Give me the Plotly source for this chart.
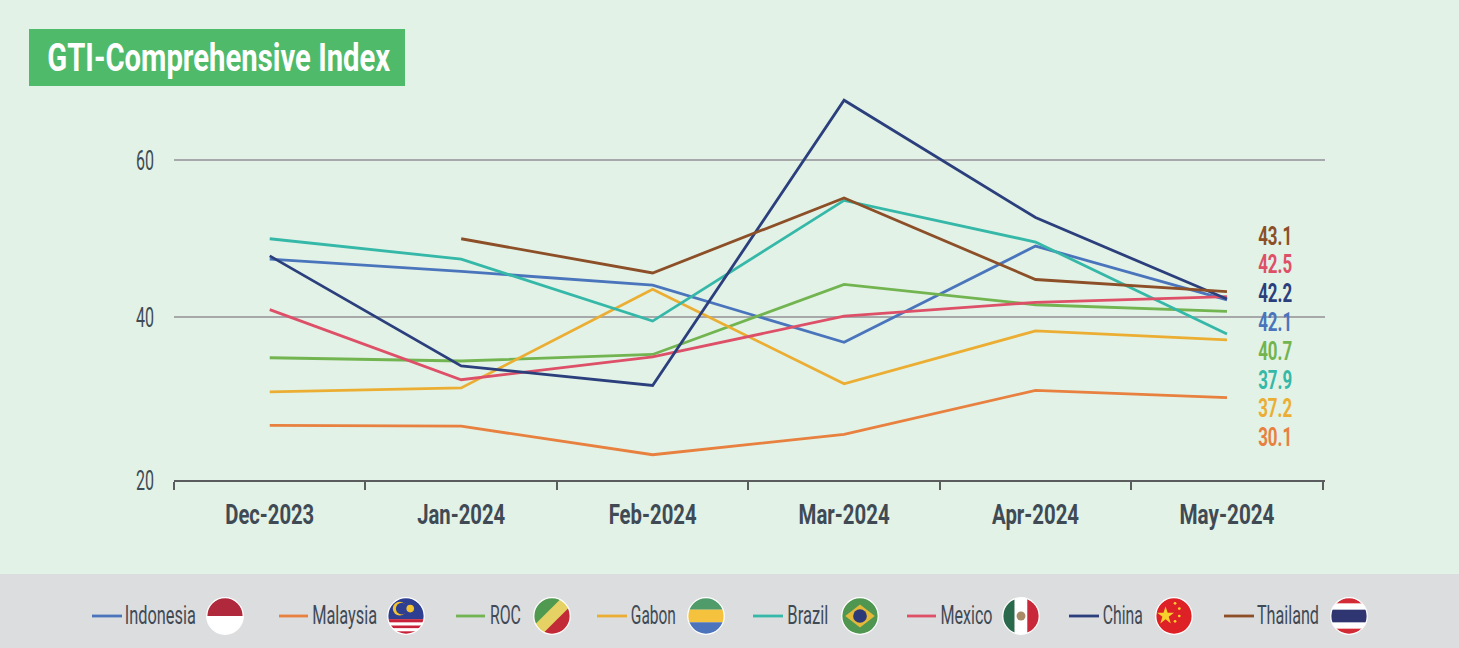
import base64
import json
import plotly.graph_objects as go

months = ["Dec-2023", "Jan-2024", "Feb-2024", "Mar-2024", "Apr-2024", "May-2024"]
indonesia = [47.1, 45.6, 43.9, 36.9, 48.7, 42.1]
malaysia = [26.7, 26.6, 23.1, 25.6, 31.0, 30.1]
roc = [35.0, 34.6, 35.4, 44.0, 41.5, 40.7]
gabon = [30.8, 31.3, 43.4, 31.8, 38.3, 37.2]
brazil = [49.6, 47.1, 39.5, 54.3, 49.2, 37.9]
mexico = [40.9, 32.3, 35.1, 40.1, 41.8, 42.5]
china = [47.5, 34.0, 31.6, 66.6, 52.2, 42.2]
thailand = [None, 49.6, 45.4, 54.6, 44.6, 43.1]

names = ["Indonesia", "Malaysia", "ROC", "Gabon", "Brazil", "Mexico", "China", "Thailand"]
colors = ["#4A75BC", "#E8803F", "#72B450", "#EBAE32", "#35B8A8", "#DD5068", "#2B3F7C", "#8C4F28"]
series = [indonesia, malaysia, roc, gabon, brazil, mexico, china, thailand]

label_order = ["Thailand", "Mexico", "China", "Indonesia", "ROC", "Brazil", "Gabon", "Malaysia"]
label_text = ["43.1", "42.5", "42.2", "42.1", "40.7", "37.9", "37.2", "30.1"]
label_py = [236, 264, 293, 322, 351, 380, 408, 437]

tick_vals = [20, 40, 59.26]
tick_text = ["20", "40", "60"]
title_text = "GTI-Comprehensive Index"

W, H = 1459, 648
L, R, T, B = 174, 1325, 90, 480
FONT = "Roboto"
BG, FOOT, INK, GRID = "#E2F2E6", "#DCDDDF", "#404A55", "#A6A8AA"


def px(x):
    return (x - L) / (R - L)


def py(y):
    return (B - y) / (B - T)


def svg_uri(body):
    s = ('<svg xmlns="http://www.w3.org/2000/svg" viewBox="0 0 36 36"><defs><clipPath id="c">'
         '<circle cx="18" cy="18" r="17.3"/></clipPath></defs><g clip-path="url(#c)">' + body +
         '</g><circle cx="18" cy="18" r="17.3" fill="none" stroke="#fff" stroke-width="1.2"/></svg>')
    return "data:image/svg+xml;base64," + base64.b64encode(s.encode()).decode()


def rect(x, y, w, h, c):
    return f'<rect x="{x}" y="{y}" width="{w}" height="{h}" fill="{c}"/>'


china_stars = [(19, 6), (23, 11), (23, 18), (19, 23)]

flags = {
    "Indonesia": rect(0, 0, 36, 18, "#AF283C") + rect(0, 18, 36, 18, "#fff"),
    "Malaysia": rect(0, 0, 36, 36, "#fff") + rect(0, 0, 36, 21, "#2E3F92") + rect(0, 21, 36, 3, "#C8223A")
    + rect(0, 27, 36, 2.5, "#C8223A") + rect(0, 32.5, 36, 3.5, "#C8223A")
    + '<circle cx="12" cy="11" r="6.5" fill="#F4C430"/><circle cx="14" cy="11" r="5.6" fill="#2E3F92"/>'
    + '<circle cx="22" cy="11" r="3.6" fill="#F4C430"/>',
    "ROC": rect(0, 0, 36, 36, "#E6D264") + '<path d="M0 0H28L0 28Z" fill="#4F9A50"/><path d="M36 8V36H8Z" fill="#C22A38"/>',
    "Gabon": rect(0, 0, 36, 12, "#4F9C6A") + rect(0, 12, 36, 12, "#F4C23C") + rect(0, 24, 36, 12, "#4C74BC"),
    "Brazil": rect(0, 0, 36, 36, "#4F9650") + '<path d="M18 7L32 18L18 29L4 18Z" fill="#E3B93A"/>'
    + '<circle cx="18" cy="18" r="6.5" fill="#2D3A78"/>',
    "Mexico": rect(0, 0, 12, 36, "#2A6A4C") + rect(12, 0, 12, 36, "#fff") + rect(24, 0, 12, 36, "#C8283A")
    + '<circle cx="18" cy="18" r="4.2" fill="#A98B68"/>',
    "China": rect(0, 0, 36, 36, "#DE2126")
    + '<path d="M10 9L12 15H18L13 18.6L15 25L10 21L5 25L7 18.6L2 15H8Z" fill="#F7D02C"/>'
    + "".join(f'<circle cx="{a}" cy="{b}" r="1.3" fill="#F7D02C"/>' for a, b in china_stars),
    "Thailand": rect(0, 0, 36, 36, "#D22B36") + rect(0, 6, 36, 24, "#fff") + rect(0, 12, 36, 12, "#2F3570"),
}

# line start, line end, text start, text width, flag centre
legend_geo = {
    "Indonesia": (92, 122, 125, 71, 225),
    "Malaysia": (279, 308, 312, 65, 406),
    "ROC": (456, 485, 490, 31, 552),
    "Gabon": (597, 627, 631, 45, 706),
    "Brazil": (753, 783, 787, 41, 860),
    "Mexico": (907, 936, 940, 52, 1021),
    "China": (1069, 1099, 1103, 40, 1174),
    "Thailand": (1224, 1254, 1257, 62, 1349),
}

# rendered widths of the condensed lettering in the reference
text_widths = {title_text: 343, "Dec-2023": 89, "Jan-2024": 88, "Feb-2024": 88, "Mar-2024": 91,
               "Apr-2024": 87, "May-2024": 95, "20": 18, "40": 18, "60": 18}
for t in label_text:
    text_widths[t] = 34
for n in names:
    text_widths[n] = legend_geo[n][3]

fig = go.Figure()
for name, vals, c in zip(names, series, colors):
    fig.add_trace(go.Scatter(x=months, y=vals, mode="lines", name=name,
                             line=dict(color=c, width=2.8), showlegend=False, connectgaps=False))

shapes = [
    dict(type="rect", xref="paper", yref="paper", x0=px(0), x1=px(W), y0=py(648), y1=py(574),
         fillcolor=FOOT, line_width=0, layer="below"),
    dict(type="rect", xref="paper", yref="paper", x0=px(29), x1=px(405), y0=py(86), y1=py(29),
         fillcolor="#4EBA6A", line_width=0, layer="below"),
]
annotations = [
    dict(text=f"<b>{title_text}</b>", xref="paper", yref="paper", x=px(218.5), y=py(58),
         showarrow=False, font=dict(family=FONT, size=38, color="#fff"), xanchor="center", yanchor="middle"),
]
by_name = dict(zip(names, colors))
for n, t, y in zip(label_order, label_text, label_py):
    annotations.append(dict(text=f"<b>{t}</b>", xref="paper", yref="paper", x=px(1275), y=py(y),
                            showarrow=False, font=dict(family=FONT, size=25, color=by_name[n]),
                            xanchor="center", yanchor="middle"))
images = []
for n in names:
    x0, x1, tx, tw, fx = legend_geo[n]
    shapes.append(dict(type="line", xref="paper", yref="paper", x0=px(x0), x1=px(x1), y0=py(616), y1=py(616),
                       line=dict(color=by_name[n], width=2.8)))
    annotations.append(dict(text=n, xref="paper", yref="paper", x=px(tx + tw / 2), y=py(615), showarrow=False,
                            font=dict(family=FONT, size=25, color=INK, weight=400), xanchor="center", yanchor="middle"))
    images.append(dict(source=svg_uri(flags[n]), xref="paper", yref="paper", x=px(fx - 19), y=py(597),
                       sizex=38 / (R - L), sizey=38 / (B - T), xanchor="left", yanchor="top", layer="above"))

fig.update_layout(
    width=W, height=H, autosize=False,
    margin=dict(l=L, r=W - R, t=T, b=H - B, pad=0),
    paper_bgcolor=BG, plot_bgcolor=BG,
    shapes=shapes, annotations=annotations, images=images,
    font=dict(family=FONT, color=INK),
    xaxis=dict(type="category", categoryorder="array", categoryarray=months, range=[-0.5, 5.512],
               showgrid=False, showline=True, linecolor="#5A5C5E", linewidth=1.5,
               ticks="outside", ticklen=8, tickcolor="#5A5C5E", tickwidth=1.5, tickson="boundaries",
               tickfont=dict(family=FONT, size=28, color=INK), ticklabelstandoff=9,
               tickprefix="<b>", ticksuffix="</b>"),
    yaxis=dict(range=[20, 67.85], tickmode="array", tickvals=tick_vals, ticktext=tick_text,
               showgrid=True, gridcolor=GRID, gridwidth=1.6, zeroline=False, showline=False, ticks="",
               tickfont=dict(family=FONT, size=28, color=INK, weight=400), ticklabelstandoff=19),
)

squeeze = """
document.body.style.margin='0';document.body.style.overflow='hidden';
var widths = %s;
function squeeze(){
  document.querySelectorAll('.main-svg text').forEach(function(t){
    var w = widths[t.textContent.trim()];
    if (w) { t.setAttribute('textLength', w); t.setAttribute('lengthAdjust', 'spacingAndGlyphs'); }
  });
}
squeeze(); setTimeout(squeeze, 50); setTimeout(squeeze, 300);
""" % json.dumps(text_widths)

fig.write_html("out.html", config={"displayModeBar": False}, post_script=squeeze)
